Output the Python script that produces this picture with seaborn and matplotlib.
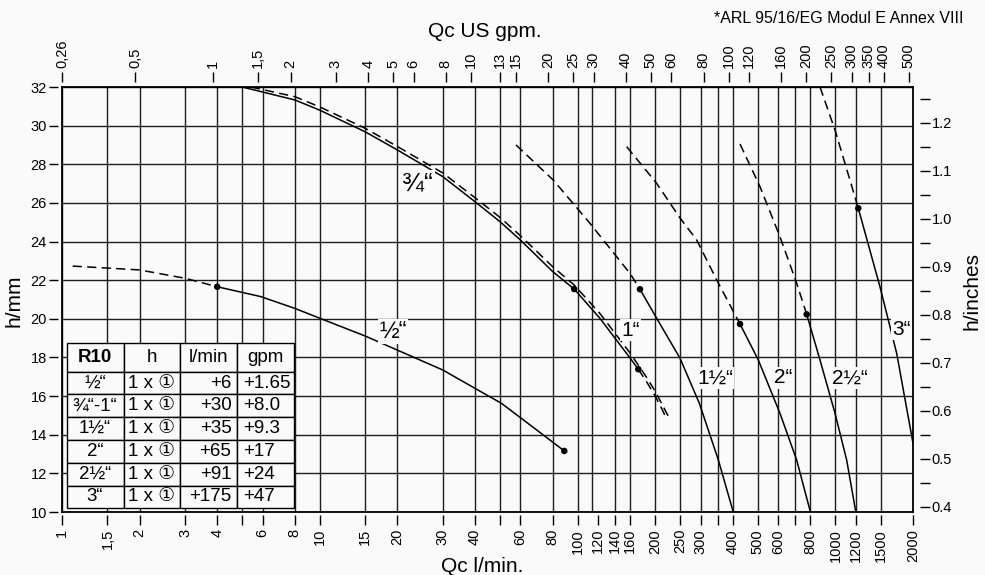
#!/usr/bin/env python3
"""
R10 pressure loss chart: h/mm against Qc l/min on a log scale,
with US gpm on top and h/inches on the right.
"""

import pandas as pd
import matplotlib
matplotlib.use("Agg")
import matplotlib.pyplot as plt
from matplotlib.ticker import NullLocator
import seaborn as sns

# ---- curves (Qc in l/min, h in mm) ----
HALF_DASH_Q = [1.1, 2.0, 3.0, 4.0]
HALF_DASH_H = [22.73, 22.53, 22.10, 21.66]
HALF_Q = [4.0, 5.9, 8.0, 10.0, 15.0, 20.0, 30.0, 40.0, 50.6, 67.0, 88.8]
HALF_H = [21.66, 21.15, 20.54, 20.03, 19.11, 18.38, 17.35, 16.40, 15.63, 14.40, 13.16]

THREEQ_Q = [5.0, 8.0, 10.0, 15.0, 20.0, 30.0, 40.0, 50.0, 60.0, 80.0, 97.0, 122.0, 160.0, 172.0]
THREEQ_H = [32.0, 31.33, 30.80, 29.68, 28.74, 27.36, 26.06, 25.03, 24.08, 22.45, 21.54, 20.03, 17.96, 17.39]
THREEQ_EXT_Q = [172.0, 185.0, 200.0, 212.0, 221.0]
THREEQ_EXT_H = [17.39, 16.75, 16.00, 15.35, 14.85]
ONE_Q = [5.4, 8.0, 10.0, 15.0, 20.0, 30.0, 40.0, 50.0, 60.0, 80.0, 97.0, 122.0, 160.0, 185.0, 200.0, 215.0, 228.0]
ONE_H = [32.0, 31.50, 30.97, 29.86, 28.92, 27.55, 26.27, 25.25, 24.30, 22.70, 21.75, 20.28, 18.22, 16.98, 16.25, 15.45, 14.80]

ONEHALF_DASH_Q = [57.7, 80.5, 111.7, 159.7, 174.6]
ONEHALF_DASH_H = [29.0, 27.18, 24.94, 22.35, 21.53]
ONEHALF_Q = [174.6, 202.6, 249.6, 296.6, 351.6, 401.6]
ONEHALF_H = [21.53, 20.03, 17.96, 15.63, 12.69, 10.0]

TWO_DASH_Q = [155.0, 202.7, 249.6, 289.7, 346.4, 426.6]
TWO_DASH_H = [28.91, 27.01, 25.22, 24.08, 22.01, 19.73]
TWO_Q = [426.6, 502.3, 609.5, 707.6, 800.0]
TWO_H = [19.73, 17.87, 15.11, 12.69, 10.0]

TWOHALF_DASH_Q = [426.6, 510.0, 609.5, 707.6, 773.9]
TWOHALF_DASH_H = [29.05, 26.84, 24.25, 21.84, 20.23]
TWOHALF_Q = [773.9, 871.5, 996.6, 1106.0, 1200.0]
TWOHALF_H = [20.23, 17.87, 15.11, 12.69, 10.0]

THREE_DASH_Q = [871.5, 996.6, 1139.0, 1227.0]
THREE_DASH_H = [32.0, 29.77, 27.18, 25.72]
THREE_Q = [1227.0, 1489.0, 1729.0, 2000.0]
THREE_H = [25.72, 21.66, 18.21, 13.56]

# operating points (dots)
DOT_Q = [4.0, 88.8, 97.0, 172.0, 174.6, 426.6, 773.9, 1227.0]
DOT_H = [21.66, 13.16, 21.54, 17.39, 21.53, 19.73, 20.23, 25.72]

# curve names
LABEL_TEXT = ['½“', '¾“', '1“', '1½“', '2“', '2½“', '3“']
LABEL_Q = [19.2, 24.0, 160.7, 341.0, 626.0, 1140.0, 1808.0]
LABEL_H = [19.33, 27.03, 19.42, 16.94, 16.94, 16.94, 19.46]
LABEL_SIZE = [17, 19, 15, 15, 15, 15, 15]

# R10 table
TABLE_HEAD = ['R10', 'h', 'l/min', 'gpm']
TABLE_SIZE = ['½“', '¾“-1“', '1½“', '2“', '2½“', '3“']
TABLE_H = ['1 x ①', '1 x ①', '1 x ①', '1 x ①', '1 x ①', '1 x ①']
TABLE_LPM = ['+6', '+30', '+35', '+65', '+91', '+175']
TABLE_GPM = ['+1.65', '+8.0', '+9.3', '+17', '+24', '+47']

# axes
Q_TICKS = [1, 1.5, 2, 3, 4, 5, 6, 8, 10, 15, 20, 30, 40, 50, 60, 80, 100, 120, 140, 160,
           200, 250, 300, 350, 400, 500, 600, 700, 800, 1000, 1200, 1500, 2000]
Q_LABELS = ['1', '1,5', '2', '3', '4', '', '6', '8', '10', '15', '20', '30', '40', '', '60', '80',
            '100', '120', '140', '160', '200', '250', '300', '', '400', '500', '600', '', '800',
            '1000', '1200', '1500', '2000']
GRID_Q = [1, 1.5, 2, 3, 4, 5, 6, 8, 10, 15, 20, 30, 40, 50, 60, 80, 100, 114, 140, 160,
          200, 250, 300, 350, 400, 500, 600, 700, 800, 1000, 1200, 1500, 2000]
GPM_TICKS = [0.26, 0.5, 1, 1.5, 2, 3, 4, 5, 6, 8, 10, 13, 15, 20, 25, 30, 40, 50, 60, 80,
             100, 120, 160, 200, 250, 300, 350, 400, 500]
GPM_LABELS = ['0,26', '0,5', '1', '1,5', '2', '3', '4', '5', '6', '8', '10', '13', '15', '20',
              '25', '30', '40', '50', '60', '80', '100', '120', '160', '200', '250', '300',
              '350', '400', '500']
H_TICKS = [10, 12, 14, 16, 18, 20, 22, 24, 26, 28, 30, 32]
IN_TICKS = [0.4, 0.5, 0.6, 0.7, 0.8, 0.9, 1.0, 1.1, 1.2]
IN_LABELS = ['0.4', '0.5', '0.6', '0.7', '0.8', '0.9', '1.0', '1.1', '1.2']
IN_MINOR = [0.45, 0.55, 0.65, 0.75, 0.85, 0.95, 1.05, 1.15, 1.25]

LPM_PER_GPM = 3.85
MM_PER_INCH = 24.85
MM_OFFSET = 0.33

BG = '#fafafa'
INK = 'black'
DASH = (0, (6, 3.5))

sns.set_style("white")
plt.rcParams['font.family'] = ['Liberation Sans', 'DejaVu Sans', 'Noto Sans CJK SC']
plt.rcParams['text.color'] = INK


def draw_curve(ax, q, h, dashed=False):
    """Draw one curve segment through the seaborn line plot"""
    sns.lineplot(x=q, y=h, ax=ax, color=INK, linewidth=1.1, sort=False,
                 errorbar=None, estimator=None,
                 linestyle=DASH if dashed else '-', zorder=3)


def style_ticks(sec, axis, length, pad, rotation=0):
    """Detached tick marks like the printed chart"""
    for s in sec.spines.values():
        s.set_visible(False)
    sec.tick_params(axis=axis, which='both', direction='out', length=length, width=1.0,
                    color=INK, labelcolor=INK, pad=pad, labelsize=10.5,
                    labelrotation=rotation)


fig = plt.figure(figsize=(9.85, 5.75), dpi=100)
fig.patch.set_facecolor(BG)
ax = fig.add_axes([62 / 985, 63 / 575, 851 / 985, 425 / 575])
ax.set_facecolor(BG)

ax.set_xscale('log')
ax.set_xlim(1, 2000)
ax.set_ylim(10, 32)
ax.set_xticks(GRID_Q)
ax.set_yticks(H_TICKS)
ax.xaxis.set_minor_locator(NullLocator())
ax.tick_params(which='both', length=0, labelbottom=False, labelleft=False)
ax.grid(True, color='#1e1e1e', linewidth=1.0)
ax.set_axisbelow(True)
for s in ax.spines.values():
    s.set_color(INK)
    s.set_linewidth(1.3)

# curves
draw_curve(ax, HALF_DASH_Q, HALF_DASH_H, dashed=True)
draw_curve(ax, HALF_Q, HALF_H)
draw_curve(ax, THREEQ_Q, THREEQ_H)
draw_curve(ax, THREEQ_EXT_Q, THREEQ_EXT_H, dashed=True)
draw_curve(ax, ONE_Q, ONE_H, dashed=True)
draw_curve(ax, ONEHALF_DASH_Q, ONEHALF_DASH_H, dashed=True)
draw_curve(ax, ONEHALF_Q, ONEHALF_H)
draw_curve(ax, TWO_DASH_Q, TWO_DASH_H, dashed=True)
draw_curve(ax, TWO_Q, TWO_H)
draw_curve(ax, TWOHALF_DASH_Q, TWOHALF_DASH_H, dashed=True)
draw_curve(ax, TWOHALF_Q, TWOHALF_H)
draw_curve(ax, THREE_DASH_Q, THREE_DASH_H, dashed=True)
draw_curve(ax, THREE_Q, THREE_H)

sns.scatterplot(x=DOT_Q, y=DOT_H, ax=ax, color=INK, s=22, edgecolor='none', zorder=4)

for txt, q, h, size in zip(LABEL_TEXT, LABEL_Q, LABEL_H, LABEL_SIZE):
    ax.text(q, h, txt, fontsize=size, ha='center', va='center', zorder=5,
            bbox=dict(facecolor=BG, edgecolor='none', pad=1.0))

# table
table_df = pd.DataFrame({'R10': TABLE_SIZE, 'h': TABLE_H,
                         'l/min': TABLE_LPM, 'gpm': TABLE_GPM})
tbl = ax.table(cellText=table_df.values, colLabels=TABLE_HEAD, cellLoc='center',
               bbox=[0.0055, 0.0087, 0.2671, 0.3896], zorder=6)
tbl.auto_set_font_size(False)
tbl.set_fontsize(13.5)
for (r, c), cell in tbl.get_celld().items():
    cell.set_facecolor(BG)
    cell.set_edgecolor(INK)
    cell.set_linewidth(1.0)
    cell.set_height(29 if r == 0 else 22.8)
    if r > 0 and c == 2:
        cell.get_text().set_horizontalalignment('right')
    if r > 0 and c == 3:
        cell.get_text().set_horizontalalignment('left')
tbl[0, 0].get_text().set_fontweight('bold')

# bottom axis, l/min
bottom = ax.secondary_xaxis(-3 / 425, functions=(lambda q: q, lambda q: q))
bottom.set_xticks(Q_TICKS, labels=Q_LABELS)
bottom.xaxis.set_minor_locator(NullLocator())
style_ticks(bottom, 'x', 7, 3, rotation=90)

# top axis, US gpm
top = ax.secondary_xaxis(1 + 5 / 425, functions=(lambda q: q / LPM_PER_GPM,
                                                 lambda g: g * LPM_PER_GPM))
top.set_xticks(GPM_TICKS, labels=GPM_LABELS)
top.xaxis.set_minor_locator(NullLocator())
style_ticks(top, 'x', 7, 3, rotation=90)

# left axis, mm
left = ax.secondary_yaxis(-4 / 851, functions=(lambda h: h, lambda h: h))
left.set_yticks(H_TICKS, labels=[str(v) for v in H_TICKS])
style_ticks(left, 'y', 6.5, 1.5)

# right axis, inches
right = ax.secondary_yaxis(1 + 7 / 851, functions=(lambda h: (h - MM_OFFSET) / MM_PER_INCH,
                                                   lambda i: i * MM_PER_INCH + MM_OFFSET))
right.set_yticks(IN_TICKS, labels=IN_LABELS)
right.set_yticks(IN_MINOR, minor=True)
style_ticks(right, 'y', 7, 1.5)

# titles
fig.text(482 / 985, 1 - 572 / 575, 'Qc l/min.', fontsize=15, ha='center', va='baseline')
fig.text(485 / 985, 1 - 37 / 575, 'Qc US gpm.', fontsize=15, ha='center', va='baseline')
fig.text(14 / 985, 1 - 301 / 575, 'h/mm', fontsize=15, rotation=90, ha='center', va='center')
fig.text(972 / 985, 1 - 291 / 575, 'h/inches', fontsize=15, rotation=90, ha='center', va='center')
fig.text(963 / 985, 1 - 22.7 / 575, '*ARL 95/16/EG Modul E Annex VIII', fontsize=11.5,
         ha='right', va='baseline')

fig.savefig('out.png', dpi=100, facecolor=BG)
print("Saved: out.png")
